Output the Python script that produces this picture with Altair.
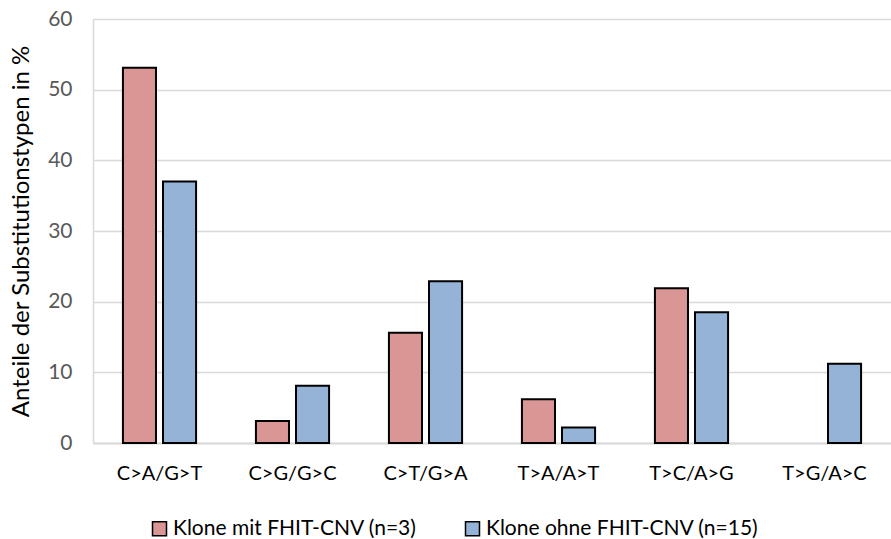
import altair as alt
import pandas as pd

categories = ["C>A/G>T", "C>G/G>C", "C>T/G>A", "T>A/A>T", "T>C/A>G", "T>G/A>C"]
series_names = ["Klone mit FHIT-CNV (n=3)", "Klone ohne FHIT-CNV (n=15)"]
mit_cnv = [53.1, 3.1, 15.6, 6.2, 21.9, 0.0]
ohne_cnv = [37.0, 8.1, 22.9, 2.2, 18.5, 11.2]
colors = ["#D99694", "#95B3D7"]

rows = []
for cat, a, b in zip(categories, mit_cnv, ohne_cnv):
    rows.append({"Typ": cat, "Gruppe": series_names[0], "Wert": a})
    rows.append({"Typ": cat, "Gruppe": series_names[1], "Wert": b})
df = pd.DataFrame(rows)

FONT = "Lato"

chart = (
    alt.Chart(df)
    .transform_filter("datum.Wert > 0")
    .mark_bar(stroke="#000000", strokeWidth=2)
    .encode(
        x=alt.X(
            "Typ:N",
            sort=categories,
            scale=alt.Scale(paddingInner=0.45, paddingOuter=0.225),
            axis=alt.Axis(
                title=None,
                labelAngle=0,
                labelFontSize=20,
                labelColor="#000000",
                labelPadding=20,
                labelLimit=0,
                ticks=False,
                domainColor="#D9D9D9",
                domainWidth=2,
            ),
        ),
        xOffset=alt.XOffset(
            "Gruppe:N",
            sort=series_names,
            scale=alt.Scale(paddingInner=0.175, paddingOuter=0),
        ),
        y=alt.Y(
            "Wert:Q",
            scale=alt.Scale(domain=[0, 60], nice=False),
            axis=alt.Axis(
                title="Anteile der Substitutionstypen in %",
                titleFontSize=24,
                titleFontWeight="normal",
                titleColor="#000000",
                titlePadding=14,
                values=[0, 10, 20, 30, 40, 50, 60],
                labelFontSize=21,
                labelColor="#595959",
                labelPadding=21,
                ticks=False,
                domainColor="#D9D9D9",
                domainWidth=1.5,
                gridColor="#D9D9D9",
                gridWidth=1.5,
            ),
        ),
        color=alt.Color(
            "Gruppe:N",
            sort=series_names,
            scale=alt.Scale(domain=series_names, range=colors),
            legend=alt.Legend(
                title=None,
                orient="none",
                direction="horizontal",
                legendX=56,
                legendY=499,
                symbolType="square",
                symbolSize=196,
                symbolStrokeColor="#000000",
                symbolStrokeWidth=1.5,
                symbolOpacity=1,
                labelFontSize=21,
                labelColor="#000000",
                labelOffset=3,
                labelLimit=0,
                columnPadding=45,
            ),
        ),
    )
    .properties(
        width=798,
        height=424,
        autosize=alt.AutoSizeParams(type="none"),
        padding={"left": 93, "top": 19, "right": 0, "bottom": 96},
    )
    .configure_view(stroke=None)
    .configure(font=FONT)
)

chart.save("out.html", embed_options={"renderer": "svg", "actions": False})
